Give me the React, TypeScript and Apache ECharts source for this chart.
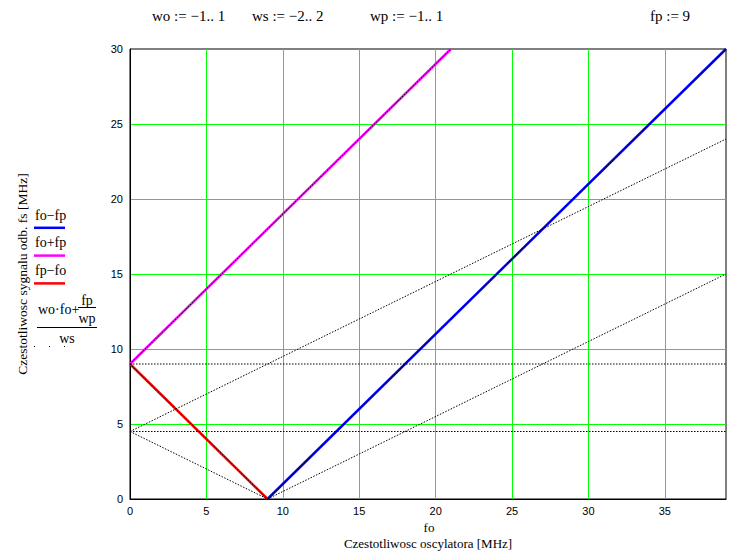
import React, { useEffect, useRef } from "react";
import * as echarts from "echarts";

// Constants from the worksheet
const fp = 9;
const topTexts = ["wo := −1.. 1", "ws := −2.. 2", "wp := −1.. 1", "fp := 9"];
const topTextX = [152, 252, 370, 650];

// Axis settings
const xMin = 0;
const xMax = 39;
const yMin = 0;
const yMax = 30;
const tickStep = 5;

// Traces [fo, fs]
const foMinusFp: [number, number][] = [[9, 0], [39, 30]];
const foPlusFp: [number, number][] = [[0, 9], [21, 30]];
const fpMinusFo: [number, number][] = [[0, 9], [9, 0]];

// Dotted family (wo·fo + fp/wp) / ws
const dottedLines: [number, number][][] = [
  [[0, 9], [21, 30]],
  [[0, 9], [39, 9]],
  [[0, 9], [9, 0]],
  [[9, 0], [39, 30]],
  [[0, 4.5], [39, 24]],
  [[0, 4.5], [39, 4.5]],
  [[0, 4.5], [9, 0]],
  [[9, 0], [39, 15]],
];

const legendNames = ["fo−fp", "fo+fp", "fp−fo"];
const legendColors = ["#0000ff", "#ff00ff", "#ff0000"];

const SERIF = "'Liberation Serif', 'Times New Roman', serif";
const SANS = "'Liberation Sans', Arial, sans-serif";

export default function App() {
  const ref = useRef<HTMLDivElement>(null);
  useEffect(() => {
    if (!ref.current) return;
    const chart = echarts.init(ref.current, undefined, { renderer: "svg" });

    const coloredSeries = [foMinusFp, foPlusFp, fpMinusFo].map((d, i) => ({
      type: "line",
      name: legendNames[i],
      data: d,
      showSymbol: false,
      clip: true,
      lineStyle: { color: legendColors[i], width: 2.5 },
      z: 2,
    }));
    const dottedSeries = dottedLines.map((d) => ({
      type: "line",
      data: d,
      showSymbol: false,
      clip: true,
      lineStyle: { color: "#000", width: 1, type: [1.5, 1.5] },
      z: 3,
    }));

    const graphics: any[] = [];
    topTexts.forEach((t, i) => {
      graphics.push({
        type: "text",
        x: topTextX[i],
        y: 16,
        style: { text: t, fill: "#000", font: `15px ${SERIF}`, textVerticalAlign: "middle" },
      });
    });
    // legend
    legendNames.forEach((n, i) => {
      const y0 = 215 + i * 27.8;
      graphics.push({
        type: "text",
        x: 35,
        y: y0,
        style: { text: n, fill: "#000", font: `14px ${SERIF}`, textVerticalAlign: "middle" },
      });
      graphics.push({
        type: "line",
        shape: { x1: 34, y1: y0 + 12.8, x2: 65, y2: y0 + 12.8 },
        style: { stroke: legendColors[i], lineWidth: 2.5 },
      });
    });
    graphics.push(
      { type: "text", x: 38, y: 309, style: { text: "wo·fo+", fill: "#000", font: `14px ${SERIF}`, textVerticalAlign: "middle" } },
      { type: "text", x: 87, y: 300, style: { text: "fp", fill: "#000", font: `14px ${SERIF}`, textAlign: "center", textVerticalAlign: "middle" } },
      { type: "line", shape: { x1: 78, y1: 307.5, x2: 96, y2: 307.5 }, style: { stroke: "#000", lineWidth: 1 } },
      { type: "text", x: 87, y: 318, style: { text: "wp", fill: "#000", font: `14px ${SERIF}`, textAlign: "center", textVerticalAlign: "middle" } },
      { type: "line", shape: { x1: 37, y1: 327.5, x2: 97, y2: 327.5 }, style: { stroke: "#000", lineWidth: 1 } },
      { type: "text", x: 67, y: 338, style: { text: "ws", fill: "#000", font: `14px ${SERIF}`, textAlign: "center", textVerticalAlign: "middle" } },
      { type: "line", shape: { x1: 34, y1: 346.5, x2: 66, y2: 346.5 }, style: { stroke: "#000", lineWidth: 1, lineDash: [1, 14] } },
      // y axis title
      {
        type: "text",
        x: 22,
        y: 274,
        rotation: Math.PI / 2,
        style: { text: "Czestotliwosc sygnalu odb. fs [MHz]", fill: "#000", font: `13.5px ${SERIF}`, textAlign: "center", textVerticalAlign: "middle" },
      },
      // x axis titles
      { type: "text", x: 429, y: 527, style: { text: "fo", fill: "#000", font: `13px ${SERIF}`, textAlign: "center", textVerticalAlign: "middle" } },
      { type: "text", x: 428, y: 543, style: { text: "Czestotliwosc oscylatora [MHz]", fill: "#000", font: `13px ${SERIF}`, textAlign: "center", textVerticalAlign: "middle" } }
    );

    chart.setOption({
      animation: false,
      backgroundColor: "#fff",
      grid: { left: 130, top: 49, width: 596, height: 450, show: true, borderColor: "#000", borderWidth: 1, backgroundColor: "transparent" },
      xAxis: {
        type: "value",
        min: xMin,
        max: xMax,
        interval: tickStep,
        axisLine: { show: true, lineStyle: { color: "#000", width: 1 } },
        axisTick: { show: false },
        axisLabel: { color: "#000", fontFamily: SANS, fontSize: 11, margin: 6, showMaxLabel: false },
        splitLine: { show: true, showMinLine: false, showMaxLine: false, lineStyle: { color: "#00ff00", width: 1 } },
      },
      yAxis: {
        type: "value",
        min: yMin,
        max: yMax,
        interval: tickStep,
        axisLine: { show: true, lineStyle: { color: "#000", width: 1 } },
        axisTick: { show: false },
        axisLabel: { color: "#000", fontFamily: SANS, fontSize: 11, margin: 7 },
        splitLine: { show: true, showMinLine: false, showMaxLine: false, lineStyle: { color: "#00ff00", width: 1 } },
      },
      series: [...coloredSeries, ...dottedSeries],
      graphic: graphics,
    });
    return () => chart.dispose();
  }, []);
  return <div ref={ref} style={{ position: "fixed", left: 0, top: 0, width: 755, height: 558 }} />;
}
